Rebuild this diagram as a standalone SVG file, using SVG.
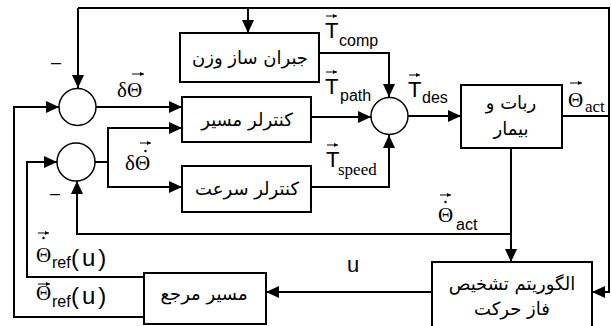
<svg xmlns="http://www.w3.org/2000/svg" width="611" height="326" viewBox="0 0 611 326">
<defs>
<marker id="ah" markerWidth="13" markerHeight="12" refX="13" refY="6" orient="auto" markerUnits="userSpaceOnUse"><path d="M0,0 L13,6 L0,12 Z" fill="#000"/></marker>
<marker id="va" markerWidth="4" markerHeight="4" refX="4" refY="2" orient="auto" markerUnits="userSpaceOnUse"><path d="M0,0 L4,2 L0,4 Z" fill="#000"/></marker>
<style>
.box{fill:#fff;stroke:#000;stroke-width:2}
.sum{fill:#fff;stroke:#000;stroke-width:1.5}
.ln{fill:none;stroke:#000;stroke-width:2}
.ar{fill:none;stroke:#000;stroke-width:2;marker-end:url(#ah)}
.vec{fill:none;stroke:#000;stroke-width:1;marker-end:url(#va)}
.fa{font-family:"DejaVu Sans",sans-serif;font-size:18px;text-anchor:middle;direction:rtl}
.gr{font-family:"Liberation Serif",serif;font-size:21px}
.sn{font-family:"Liberation Sans",sans-serif}
.T{font-family:"Liberation Sans",sans-serif;font-size:22px}
.sub{font-family:"Liberation Sans",sans-serif;font-size:16px}
.subs{font-family:"Liberation Serif",serif;font-size:17px}
</style>
</defs>
<g id="connectors">
<path class="ln" d="M562,116 H609 V8 H78"/>
<path class="ar" d="M78,8 V88"/>
<path class="ar" d="M248,8 V33"/>
<path class="ar" d="M609,116 V292 H592"/>
<path class="ar" d="M96,107 H182"/>
<path class="ln" d="M95,162 H108"/>
<path class="ar" d="M108,162 V128 H182"/>
<path class="ar" d="M108,162 V187 H182"/>
<path class="ar" d="M319,53 H389 V97"/>
<path class="ar" d="M311,117 H371"/>
<path class="ar" d="M311,187 H389 V135"/>
<path class="ar" d="M408,116 H461"/>
<path class="ar" d="M511,148 V262"/>
<path class="ar" d="M511,234 H77 V181"/>
<path class="ar" d="M432,292 H266"/>
<path class="ar" d="M144,277 H27 V162 H57"/>
<path class="ar" d="M144,317 H14 V107 H59"/>
</g>
<g id="sum1"><circle class="sum" cx="77.5" cy="107" r="18.5"/></g>
<g id="sum2"><circle class="sum" cx="76" cy="162" r="19"/></g>
<g id="sum3"><circle class="sum" cx="389.5" cy="116" r="18.5"/></g>
<g id="comp"><rect class="box" x="180" y="33" width="139" height="49"/><text class="fa" x="250" y="64">جبران ساز وزن</text></g>
<g id="pathctl"><rect class="box" x="182" y="97" width="129" height="45"/><text class="fa" x="247" y="126">کنترلر مسیر</text></g>
<g id="speedctl"><rect class="box" x="182" y="166" width="129" height="46"/><text class="fa" x="247" y="195">کنترلر سرعت</text></g>
<g id="robot"><rect class="box" x="461" y="85" width="101" height="63"/><text class="fa" x="511" y="109">ربات و</text><text class="fa" x="511" y="135">بیمار</text></g>
<g id="phase"><rect class="box" x="432" y="262" width="160" height="70"/><text class="fa" x="512" y="290">الگوریتم تشخیص</text><text class="fa" x="512" y="315">فاز حرکت</text></g>
<g id="ref"><rect class="box" x="144" y="273" width="122" height="51"/><text class="fa" x="204" y="300">مسیر مرجع</text></g>
<g id="labels">
<text class="sn" x="51" y="68" font-size="18">–</text>
<text class="sn" x="50" y="199" font-size="18">–</text>
<text class="gr" x="117" y="97">δΘ</text><path class="vec" d="M132,74 H144"/>
<text class="gr" x="125" y="170">δΘ</text><circle cx="145.5" cy="151" r="1.2"/><path class="vec" d="M140,143 H151"/>
<text class="T" x="325" y="38">T</text><text class="sub" x="339" y="46">comp</text><path class="vec" d="M326,16 H337"/>
<text class="T" x="325" y="94">T</text><text class="sub" x="340" y="101">path</text><path class="vec" d="M326,72 H337"/>
<text class="T" x="326" y="167">T</text><text class="subs" x="338" y="175">speed</text><path class="vec" d="M327,145 H338"/>
<text class="T" x="408" y="97">T</text><text class="sub" x="422" y="103">des</text><path class="vec" d="M409,75 H420"/>
<text class="gr" x="568" y="107">Θ</text><text class="subs" x="585" y="112">act</text><path class="vec" d="M570,83 H582"/>
<text class="gr" x="438" y="222">Θ</text><text class="sub" x="456" y="230">act</text><circle cx="445.5" cy="202" r="1.2"/><path class="vec" d="M440,195 H451"/>
<text class="sn" x="347" y="272" font-size="22">u</text>
<text class="gr" x="36" y="262">Θ</text><text class="sub" x="52" y="268" font-size="15">ref</text><text class="sn" x="71" y="266" font-size="24" letter-spacing="3">(u)</text><circle cx="43.5" cy="238" r="1.2"/><path class="vec" d="M38,233 H49"/>
<text class="gr" x="36" y="300">Θ</text><text class="sub" x="52" y="307" font-size="15">ref</text><text class="sn" x="71" y="304" font-size="24" letter-spacing="3">(u)</text><path class="vec" d="M38,284 H50"/>
</g>
</svg>
